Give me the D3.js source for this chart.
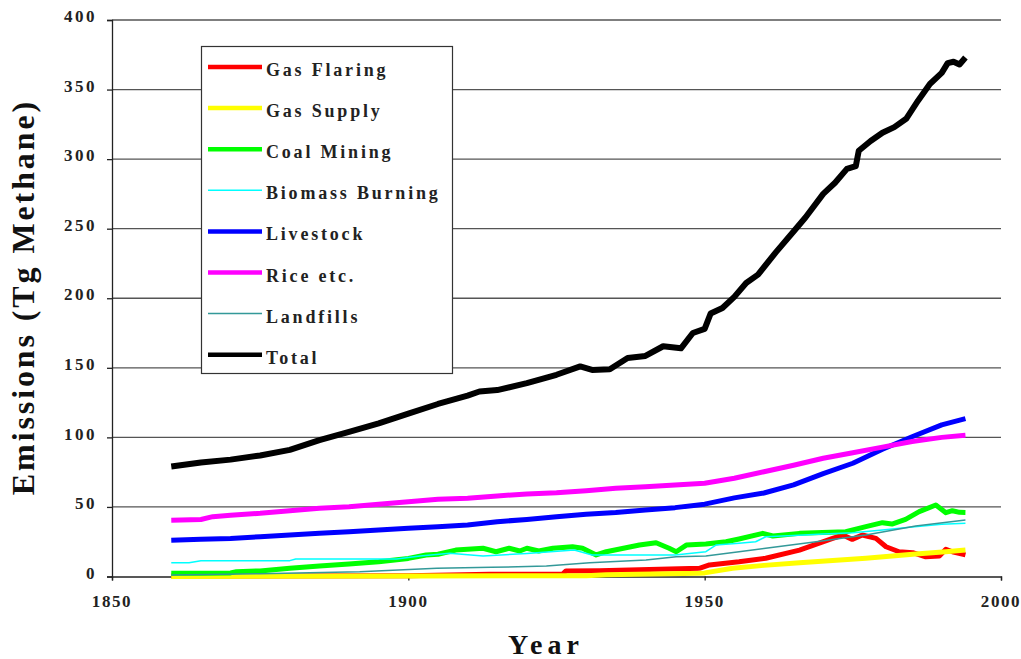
<!DOCTYPE html>
<html><head><meta charset="utf-8">
<script src="https://cdn.jsdelivr.net/npm/d3@7"></script>
<style>
body{margin:0;background:#fff;}
text{font-family:"Liberation Serif","Times New Roman",serif;font-weight:bold;}
</style></head>
<body><svg id="c" width="1021" height="659"></svg>
<script>
const xTicks = [1850, 1900, 1950, 2000];
const yTicks = [0, 50, 100, 150, 200, 250, 300, 350, 400];

const totalYears = [1860,1865,1870,1875,1880,1885,1890,1895,1900,1905,1910,1912,1915,1920,1925,1929,1931,1934,1937,1940,1943,1946,1948,1950,1951,1953,1955,1957,1959,1962,1965,1967,1970,1972,1974,1975.5,1976,1978,1980,1982,1984,1986,1988,1990,1991,1992,1993,1994];
const totalVals  = [79,82,84,87,91,98,104,110,117,124,130,133,134,139,145,151,148.5,149,157,158.5,165.5,164,175,178,189,193,201,211,217,233,248,258,275,283,293,295,306,313,319,323,329,342,354,362,369,370,368,373];

const riceYears = [1860,1865,1867,1870,1875,1880,1885,1890,1895,1900,1905,1910,1915,1920,1925,1930,1935,1940,1945,1950,1955,1960,1965,1970,1975,1980,1985,1990,1994];
const riceVals  = [40.5,41,43,44,45.4,47.3,49,50.2,52,53.8,55.5,56.2,57.9,59.3,60.2,61.7,63.4,64.5,65.8,67,70.6,75.3,80,85,89,93,97,100,101.5];

const livestockYears = [1860,1865,1870,1875,1880,1885,1890,1895,1900,1905,1910,1915,1920,1925,1930,1935,1940,1945,1950,1955,1960,1965,1970,1975,1980,1985,1990,1994];
const livestockVals  = [26,26.7,27.4,28.6,29.8,31,32.2,33.4,34.6,35.8,37,39.4,41,43,44.7,46,47.8,49.5,52,56.5,60,65.8,74,81.4,91.5,100.5,109,113.5];

const coalYears = [1860,1865,1870,1871,1875,1880,1885,1890,1895,1900,1903,1905,1908,1912.6,1914.8,1917,1918.8,1920,1922,1924.4,1927.7,1929.4,1931.7,1933.4,1939,1941.8,1944,1945.2,1946.9,1950.2,1953.6,1955.8,1959.8,1961.5,1966,1973.8,1977.2,1980,1981.6,1983.9,1986.2,1989,1990.7,1991.8,1993,1994];
const coalVals  = [2.3,2.3,2.6,3.5,4,5.9,7.5,9,10.6,13,15.5,16,19,20.3,17.8,20.3,18.3,20.3,18.3,20.3,21.4,20.3,15.5,17.8,22.6,24.3,20.3,17.8,22.6,23.4,25,27,31,29.1,31,32.2,35.8,38.7,37.7,41.1,46.6,51.4,45.9,47.3,46.1,46];

const biomassYears = [1860,1863,1865,1880,1881,1898,1902,1907,1912.6,1920,1928,1931,1934,1945,1950.2,1951.9,1955.8,1958.6,1960.3,1965,1970,1975,1980,1985,1990,1994];
const biomassVals  = [9.9,9.9,11.4,11.4,12.6,12.6,14.7,16.7,14.7,16.5,19,15.5,15.5,15.5,17.8,22.6,23.9,25,28.6,29.5,30.5,31.5,33.5,35.5,37.5,38.2];

const landfillYears = [1860,1875,1891.8,1904.8,1914,1923.3,1930.6,1940.1,1945.2,1950.2,1955.8,1960.3,1968.8,1977.2,1985.6,1994];
const landfillVals  = [1,2,3.5,5.9,6.6,7.5,9.9,11.9,14.2,14.7,17.8,20.3,25,29.8,36.3,40.6];

const flaringYears = [1860,1900,1913.7,1926,1926.6,1932.2,1949.1,1950.8,1955.8,1960.3,1966,1971.6,1973.3,1974.9,1976.6,1978.9,1980.6,1982.8,1985.1,1987.3,1989.6,1990.7,1991.8,1994];
const flaringVals  = [0.3,0.5,1.6,1.6,4,4.2,5.9,8.3,10.6,13.1,19,27.4,29.8,26.7,29.8,27.4,21.4,17.8,17.1,14.2,14.7,19.5,17.8,15.5];

const supplyYears = [1860,1900,1930,1933.4,1949,1950,1954.7,1960,1966,1977.2,1985.6,1990.7,1994];
const supplyVals  = [0,0.3,0.6,1.2,2.3,2.6,5.9,8,9.9,13.1,16.2,17.8,19];

const seriesNames  = ["Gas Flaring","Gas Supply","Coal Mining","Biomass Burning","Livestock","Rice etc.","Landfills","Total"];
const seriesColors = ["#ff0000","#ffff00","#00ff00","#00ffff","#0000ff","#ff00ff","#339999","#000000"];
const seriesWidths = [5,5,5,1.5,5,5,1.5,6];

const seriesData = [
  [flaringYears, flaringVals],
  [supplyYears, supplyVals],
  [coalYears, coalVals],
  [biomassYears, biomassVals],
  [livestockYears, livestockVals],
  [riceYears, riceVals],
  [landfillYears, landfillVals],
  [totalYears, totalVals]
];

const svg = d3.select("#c");
const x = d3.scaleLinear().domain([1850, 2000]).range([112, 1001]);
const y = d3.scaleLinear().domain([0, 400]).range([576.5, 20]);

// gridlines
svg.append("g").selectAll("line").data(yTicks.filter(d => d > 0)).join("line")
  .attr("x1", 112).attr("x2", 1001)
  .attr("y1", d => y(d)).attr("y2", d => y(d))
  .attr("stroke", "#555").attr("stroke-width", 1.3);

// y axis
const ya = svg.append("g").attr("transform", "translate(112,0)")
  .call(d3.axisLeft(y).tickValues(yTicks).tickSize(5).tickPadding(10).tickFormat(d3.format("d")));
ya.select(".domain").attr("stroke", "#222").attr("stroke-width", 1.3);
ya.selectAll(".tick line").attr("stroke", "#222").attr("stroke-width", 1.3);
ya.selectAll(".tick text").attr("font-size", 17).attr("letter-spacing", "2.5px")
  .attr("fill", "#222").attr("dy", "0.1em")
  .style("font-family", "'Liberation Serif',serif").style("font-weight", "bold");

// x axis
const xa = svg.append("g").attr("transform", "translate(0,576.5)")
  .call(d3.axisBottom(x).tickValues(xTicks).tickSize(4).tickPadding(14).tickFormat(d3.format("d")));
xa.select(".domain").attr("stroke", "#222").attr("stroke-width", 1.3);
xa.selectAll(".tick line").attr("stroke", "#222").attr("stroke-width", 1.3);
xa.selectAll(".tick text").attr("font-size", 17).attr("letter-spacing", "1.6px")
  .attr("fill", "#222").attr("dx", "-0.5px")
  .style("font-family", "'Liberation Serif',serif").style("font-weight", "bold");

// lines
const line = d3.line().x(d => x(d[0])).y(d => y(d[1])).curve(d3.curveLinear);
seriesData.forEach((s, i) => {
  const pts = s[0].map((yr, j) => [yr, s[1][j]]);
  svg.append("path").datum(pts).attr("d", line)
    .attr("fill", "none").attr("stroke", seriesColors[i])
    .attr("stroke-width", seriesWidths[i]).attr("stroke-linejoin", "round");
});

// legend
const lg = svg.append("g");
lg.append("rect").attr("x", 201.5).attr("y", 46.5).attr("width", 251).attr("height", 327)
  .attr("fill", "#fff").attr("stroke", "#333").attr("stroke-width", 1.2);
seriesNames.forEach((n, i) => {
  const cy = 67 + i * 41.1;
  lg.append("line").attr("x1", 208).attr("x2", 262).attr("y1", cy).attr("y2", cy)
    .attr("stroke", seriesColors[i]).attr("stroke-width", seriesWidths[i] === 1.5 ? 1.5 : 4.5);
  lg.append("text").attr("x", 266).attr("y", cy + 9).text(n)
    .attr("font-size", 18).attr("letter-spacing", "2.8px").attr("fill", "#222");
});

// axis titles
svg.append("text").attr("transform", "translate(34,297) rotate(-90)")
  .attr("text-anchor", "middle").attr("font-size", 32).attr("letter-spacing", "2.9px")
  .attr("fill", "#111").text("Emissions (Tg Methane)");
svg.append("text").attr("x", 546).attr("y", 654).attr("text-anchor", "middle")
  .attr("font-size", 28).attr("letter-spacing", "5px").attr("fill", "#111").text("Year");
</script></body></html>
